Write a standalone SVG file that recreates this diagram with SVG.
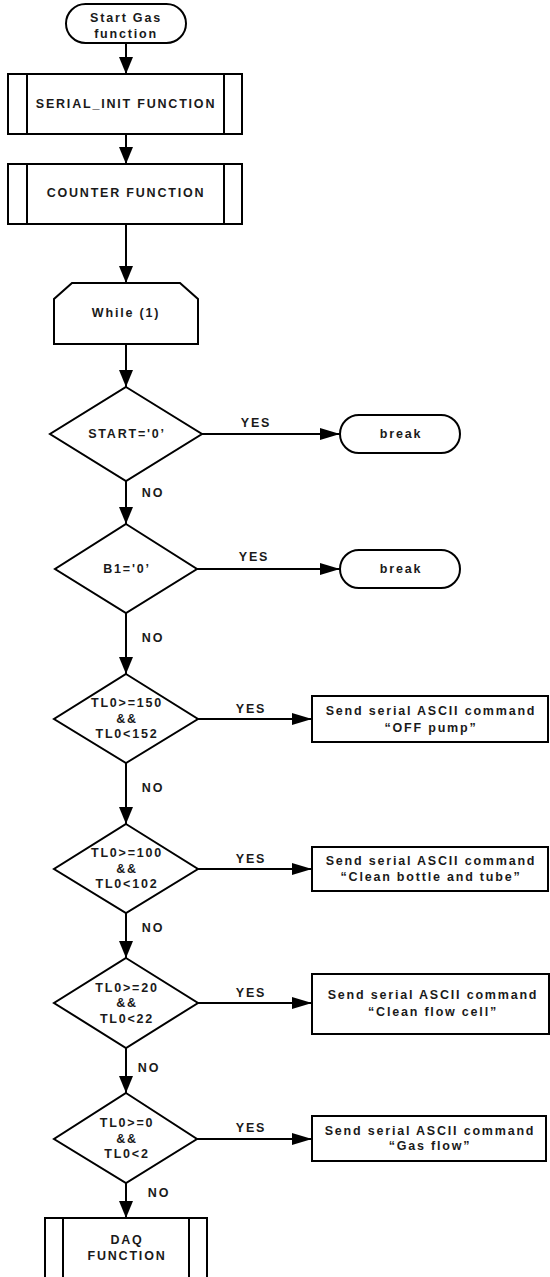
<svg xmlns="http://www.w3.org/2000/svg" width="550" height="1277" viewBox="0 0 550 1277">
  <style>
    .shape { fill: #ffffff; stroke: #000000; stroke-width: 2; }
    .inner { fill: none; stroke: #000000; stroke-width: 2; }
    .wire { fill: none; stroke: #000000; stroke-width: 2; }
    text { font-family: "Liberation Sans", Arial, sans-serif; font-weight: bold; font-size: 12.5px; letter-spacing: 1.8px; fill: #1a1a1a; text-anchor: middle; }
  </style>
  <defs>
    <!-- vertical flow arrowhead: 17 long, 14 wide -->
    <marker id="arrowV" markerUnits="userSpaceOnUse" markerWidth="17" markerHeight="14" refX="17" refY="7" orient="auto" viewBox="0 0 17 14">
      <polygon points="0,0 17,7 0,14" fill="#000000"/>
    </marker>
    <!-- branch arrowhead: 20 long, 12 wide -->
    <marker id="arrowH" markerUnits="userSpaceOnUse" markerWidth="20" markerHeight="12" refX="20" refY="6" orient="auto" viewBox="0 0 20 12">
      <polygon points="0,0 20,6 0,12" fill="#000000"/>
    </marker>
  </defs>

  <!-- connectors -->
  <g id="connectors">
    <line class="wire" x1="126" y1="43" x2="126" y2="74" marker-end="url(#arrowV)"/>
    <line class="wire" x1="126" y1="134" x2="126" y2="164" marker-end="url(#arrowV)"/>
    <line class="wire" x1="126" y1="224" x2="126" y2="283" marker-end="url(#arrowV)"/>
    <line class="wire" x1="126" y1="344" x2="126" y2="387" marker-end="url(#arrowV)"/>
    <line class="wire" x1="126" y1="481" x2="126" y2="524" marker-end="url(#arrowV)"/>
    <line class="wire" x1="126" y1="613" x2="126" y2="674" marker-end="url(#arrowV)"/>
    <line class="wire" x1="126" y1="763" x2="126" y2="824" marker-end="url(#arrowV)"/>
    <line class="wire" x1="126" y1="913" x2="126" y2="958" marker-end="url(#arrowV)"/>
    <line class="wire" x1="126" y1="1048" x2="126" y2="1093" marker-end="url(#arrowV)"/>
    <line class="wire" x1="126" y1="1183" x2="126" y2="1218" marker-end="url(#arrowV)"/>

    <line class="wire" x1="202" y1="434" x2="340" y2="434" marker-end="url(#arrowH)"/>
    <line class="wire" x1="197" y1="569" x2="340" y2="569" marker-end="url(#arrowH)"/>
    <line class="wire" x1="198" y1="719" x2="312" y2="719" marker-end="url(#arrowH)"/>
    <line class="wire" x1="198" y1="869" x2="312" y2="869" marker-end="url(#arrowH)"/>
    <line class="wire" x1="198" y1="1003" x2="312" y2="1003" marker-end="url(#arrowH)"/>
    <line class="wire" x1="197" y1="1139" x2="312" y2="1139" marker-end="url(#arrowH)"/>

    <text x="256" y="427">YES</text>
    <text x="254" y="561">YES</text>
    <text x="251" y="713">YES</text>
    <text x="251" y="863">YES</text>
    <text x="251" y="997">YES</text>
    <text x="251" y="1132">YES</text>

    <text x="153" y="497">NO</text>
    <text x="153" y="642">NO</text>
    <text x="153" y="792">NO</text>
    <text x="153" y="932">NO</text>
    <text x="149" y="1072">NO</text>
    <text x="159" y="1197">NO</text>
  </g>

  <g id="start">
    <rect class="shape" x="66" y="4" width="120" height="39" rx="19.5"/>
    <text x="126" y="22">Start Gas</text>
    <text x="126" y="38">function</text>
  </g>

  <g id="serial-init">
    <rect class="shape" x="8" y="74" width="234" height="60"/>
    <line class="inner" x1="27" y1="74" x2="27" y2="134"/>
    <line class="inner" x1="224" y1="74" x2="224" y2="134"/>
    <text x="126" y="108">SERIAL_INIT FUNCTION</text>
  </g>

  <g id="counter">
    <rect class="shape" x="8" y="164" width="234" height="60"/>
    <line class="inner" x1="27" y1="164" x2="27" y2="224"/>
    <line class="inner" x1="224" y1="164" x2="224" y2="224"/>
    <text x="126" y="197">COUNTER FUNCTION</text>
  </g>

  <g id="while-loop">
    <polygon class="shape" points="72,283 180,283 198,299 198,344 54,344 54,299"/>
    <text x="126" y="317">While (1)</text>
  </g>

  <g id="check-start">
    <polygon class="shape" points="126,387 202,434 126,481 50,434"/>
    <text x="127" y="438">START='0’</text>
  </g>

  <g id="break-1">
    <rect class="shape" x="340" y="415" width="120" height="38" rx="19"/>
    <text x="401" y="438">break</text>
  </g>

  <g id="check-b1">
    <polygon class="shape" points="126,524 197,569 126,613 55,569"/>
    <text x="127" y="573">B1='0’</text>
  </g>

  <g id="break-2">
    <rect class="shape" x="340" y="550" width="120" height="38" rx="19"/>
    <text x="401" y="573">break</text>
  </g>

  <g id="check-150">
    <polygon class="shape" points="126,674 198,719 126,763 54,719"/>
    <text x="127" y="707">TL0&gt;=150</text>
    <text x="127" y="723">&amp;&amp;</text>
    <text x="127" y="738">TL0&lt;152</text>
  </g>

  <g id="cmd-off-pump">
    <rect class="shape" x="312" y="696" width="236" height="46"/>
    <text x="431" y="715">Send serial ASCII command</text>
    <text x="431" y="732">“OFF pump”</text>
  </g>

  <g id="check-100">
    <polygon class="shape" points="126,824 198,869 126,913 54,869"/>
    <text x="127" y="857">TL0&gt;=100</text>
    <text x="127" y="873">&amp;&amp;</text>
    <text x="127" y="888">TL0&lt;102</text>
  </g>

  <g id="cmd-clean-bottle">
    <rect class="shape" x="312" y="847" width="236" height="44"/>
    <text x="431" y="865">Send serial ASCII command</text>
    <text x="431" y="881">“Clean bottle and tube”</text>
  </g>

  <g id="check-20">
    <polygon class="shape" points="126,958 198,1003 126,1048 54,1003"/>
    <text x="127" y="992">TL0&gt;=20</text>
    <text x="127" y="1007">&amp;&amp;</text>
    <text x="127" y="1023">TL0&lt;22</text>
  </g>

  <g id="cmd-clean-cell">
    <rect class="shape" x="312" y="974" width="237" height="60"/>
    <text x="433" y="999">Send serial ASCII command</text>
    <text x="433" y="1016">“Clean flow cell”</text>
  </g>

  <g id="check-0">
    <polygon class="shape" points="126,1093 197,1139 126,1183 54,1139"/>
    <text x="127" y="1127">TL0&gt;=0</text>
    <text x="127" y="1143">&amp;&amp;</text>
    <text x="127" y="1158">TL0&lt;2</text>
  </g>

  <g id="cmd-gas-flow">
    <rect class="shape" x="312" y="1116" width="234" height="45"/>
    <text x="430" y="1135">Send serial ASCII command</text>
    <text x="430" y="1150">“Gas flow”</text>
  </g>

  <g id="daq">
    <rect class="shape" x="45" y="1218" width="162" height="70"/>
    <line class="inner" x1="63" y1="1218" x2="63" y2="1288"/>
    <line class="inner" x1="189" y1="1218" x2="189" y2="1288"/>
    <text x="127" y="1244">DAQ</text>
    <text x="127" y="1260">FUNCTION</text>
  </g>
</svg>
